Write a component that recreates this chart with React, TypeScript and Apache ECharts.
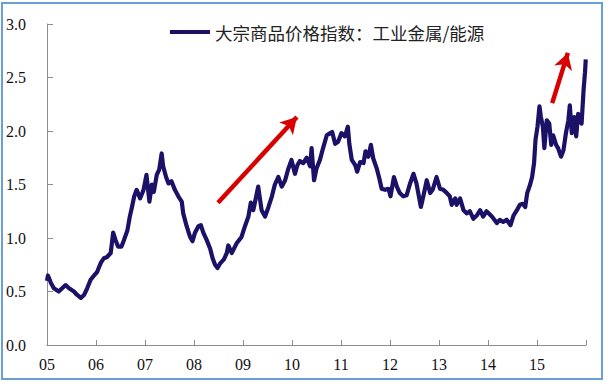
import React, { useEffect, useRef } from "react";
import * as echarts from "echarts";

const legendName = "大宗商品价格指数：工业金属/能源";
const yTicks = [0, 0.5, 1.0, 1.5, 2.0, 2.5, 3.0];
const xYears = [2005, 2006, 2007, 2008, 2009, 2010, 2011, 2012, 2013, 2014, 2015];

const times = [
  2005.0, 2005.02, 2005.08, 2005.14, 2005.24, 2005.31, 2005.38, 2005.45, 2005.55, 2005.61,
  2005.69, 2005.76, 2005.82, 2005.89, 2005.96, 2006.02, 2006.1, 2006.16, 2006.22, 2006.3,
  2006.35, 2006.4, 2006.45, 2006.52, 2006.57, 2006.64, 2006.69, 2006.73, 2006.78, 2006.83,
  2006.9, 2006.97, 2007.03, 2007.09, 2007.14, 2007.18, 2007.24, 2007.29, 2007.34, 2007.37,
  2007.43, 2007.48, 2007.54, 2007.61, 2007.68, 2007.75, 2007.78, 2007.85, 2007.92, 2007.97,
  2008.02, 2008.09, 2008.14, 2008.19, 2008.26, 2008.33, 2008.38, 2008.43, 2008.48, 2008.53,
  2008.61, 2008.67, 2008.7, 2008.77, 2008.87, 2008.97, 2009.04, 2009.11, 2009.16, 2009.21,
  2009.27, 2009.31, 2009.38, 2009.45, 2009.52, 2009.59, 2009.65, 2009.72, 2009.79, 2009.86,
  2009.92, 2009.99, 2010.06, 2010.11, 2010.16, 2010.23, 2010.3, 2010.37, 2010.4, 2010.45,
  2010.5, 2010.57, 2010.64, 2010.71, 2010.78, 2010.82, 2010.88, 2010.94, 2011.01, 2011.08,
  2011.14, 2011.17, 2011.22, 2011.29, 2011.33, 2011.39, 2011.46, 2011.5, 2011.56, 2011.61,
  2011.66, 2011.73, 2011.78, 2011.83, 2011.9, 2011.97, 2012.01, 2012.08, 2012.14, 2012.2,
  2012.27, 2012.34, 2012.41, 2012.48, 2012.54, 2012.63, 2012.68, 2012.75, 2012.82, 2012.87,
  2012.95, 2013.02, 2013.09, 2013.16, 2013.22, 2013.26, 2013.33, 2013.36, 2013.43, 2013.5,
  2013.57, 2013.63, 2013.7, 2013.77, 2013.84, 2013.9, 2013.97, 2014.08, 2014.18, 2014.24,
  2014.31, 2014.38, 2014.46, 2014.52, 2014.59, 2014.65, 2014.71, 2014.76, 2014.8, 2014.86,
  2014.9, 2014.94, 2014.97, 2015.01, 2015.05, 2015.08, 2015.12, 2015.15, 2015.2, 2015.25,
  2015.29, 2015.33, 2015.39, 2015.43, 2015.49, 2015.54, 2015.59, 2015.64, 2015.67, 2015.71,
  2015.76, 2015.8, 2015.84, 2015.88, 2015.91, 2015.95, 2015.98, 2015.995,
];

const values = [
  0.6, 0.65, 0.58, 0.53, 0.5, 0.53, 0.56, 0.53, 0.5, 0.47,
  0.44, 0.47, 0.53, 0.61, 0.65, 0.68, 0.77, 0.81, 0.82, 0.86,
  1.05, 0.98, 0.92, 0.92, 0.98, 1.07, 1.2, 1.28, 1.39, 1.45,
  1.37, 1.45, 1.59, 1.34, 1.5, 1.43, 1.59, 1.64, 1.79, 1.67,
  1.57, 1.51, 1.53, 1.45, 1.39, 1.34, 1.23, 1.11, 1.01, 0.97,
  1.05, 1.11, 1.12, 1.05, 0.98, 0.9, 0.81, 0.75, 0.72, 0.76,
  0.8, 0.86, 0.93, 0.86, 0.95, 1.01, 1.11, 1.2, 1.33, 1.26,
  1.39, 1.48, 1.26, 1.2, 1.29, 1.39, 1.5, 1.57, 1.48, 1.54,
  1.64, 1.73, 1.6, 1.68, 1.72, 1.7, 1.75, 1.67, 1.84, 1.54,
  1.65, 1.73, 1.85, 1.96, 1.98, 1.99, 1.88, 1.9, 1.98, 1.95,
  2.04, 1.88, 1.73, 1.68, 1.62, 1.71, 1.7, 1.81, 1.76, 1.87,
  1.74, 1.65, 1.56, 1.46, 1.45, 1.46, 1.39, 1.57, 1.48, 1.42,
  1.39, 1.4, 1.51, 1.6, 1.51, 1.29, 1.39, 1.54, 1.42, 1.45,
  1.57, 1.46, 1.45, 1.42, 1.39, 1.31, 1.37, 1.31, 1.37, 1.26,
  1.23, 1.25, 1.18, 1.21, 1.26, 1.2, 1.25, 1.2, 1.14, 1.17,
  1.15, 1.17, 1.12, 1.21, 1.26, 1.31, 1.32, 1.29, 1.42, 1.5,
  1.57, 1.7, 1.92, 2.04, 2.23, 2.13, 2.04, 1.84, 2.1, 2.07,
  1.87, 1.96, 1.87, 1.84, 1.76, 1.82, 1.98, 2.1, 2.24, 1.98,
  2.13, 1.95, 2.16, 2.1, 2.07, 2.38, 2.55, 2.67,
];

const arrowStarts = [[2008.49, 1.33], [2015.31, 2.26]];
const arrowEnds = [[2010.1, 2.13], [2015.63, 2.73]];

export default function App() {
  const ref = useRef<HTMLDivElement>(null);
  useEffect(() => {
    if (!ref.current) return;
    const chart = echarts.init(ref.current, undefined, { renderer: "svg" });
    const axisColor = "#8c8c8c";
    const serif = "Liberation Serif";
    chart.setOption({
      animation: false,
      backgroundColor: "#fff",
      textStyle: { fontFamily: serif },
      grid: { left: 47, top: 24, right: 29, bottom: 45, containLabel: false },
      legend: {
        data: [legendName],
        left: 165,
        top: 17,
        icon: "rect",
        itemWidth: 40,
        itemHeight: 4,
        textStyle: {
          fontFamily: "Noto Sans CJK SC",
          fontSize: 17.5,
          color: "#222",
          lineHeight: 20,
        },
      },
      graphic: [
        {
          type: "rect",
          shape: { x: 2, y: 3, width: 600, height: 376 },
          style: { fill: "none", stroke: "#6a9fd6", lineWidth: 2 },
          silent: true,
        },
      ],
      xAxis: {
        type: "value",
        min: 2005,
        max: 2016,
        interval: 1,
        splitLine: { show: false },
        axisLine: { show: true, lineStyle: { color: axisColor, width: 1 } },
        axisTick: { show: true, inside: true, length: 5, lineStyle: { color: axisColor } },
        axisLabel: {
          fontFamily: serif,
          fontSize: 16,
          color: "#111",
          margin: 11,
          formatter: (v: number) => (xYears.includes(v) ? String(v).slice(2) : ""),
        },
      },
      yAxis: {
        type: "value",
        min: 0,
        max: 3,
        interval: 0.5,
        splitLine: { show: false },
        axisLine: { show: true, lineStyle: { color: axisColor, width: 1 } },
        axisTick: { show: true, inside: true, length: 6, lineStyle: { color: axisColor } },
        axisLabel: {
          fontFamily: serif,
          fontSize: 16,
          color: "#111",
          margin: 21,
          formatter: (v: number) => (yTicks.includes(v) ? v.toFixed(1) : ""),
        },
      },
      series: [
        {
          name: legendName,
          type: "line",
          data: times.map((t, i) => [t, values[i]]),
          showSymbol: false,
          symbol: "none",
          color: "#1b1268",
          lineStyle: { color: "#1b1268", width: 4.2, join: "round" },
          markLine: {
            silent: true,
            symbol: ["none", "arrow"],
            symbolSize: [14, 16],
            label: { show: false },
            lineStyle: { color: "#d80000", width: 4.5, type: "solid" },
            data: arrowStarts.map((s, i) => [
              { coord: s },
              { coord: arrowEnds[i] },
            ]),
          },
        },
      ],
    });
    return () => chart.dispose();
  }, []);
  return (
    <div
      ref={ref}
      style={{ position: "fixed", left: 0, top: 0, width: 615, height: 390 }}
    />
  );
}
